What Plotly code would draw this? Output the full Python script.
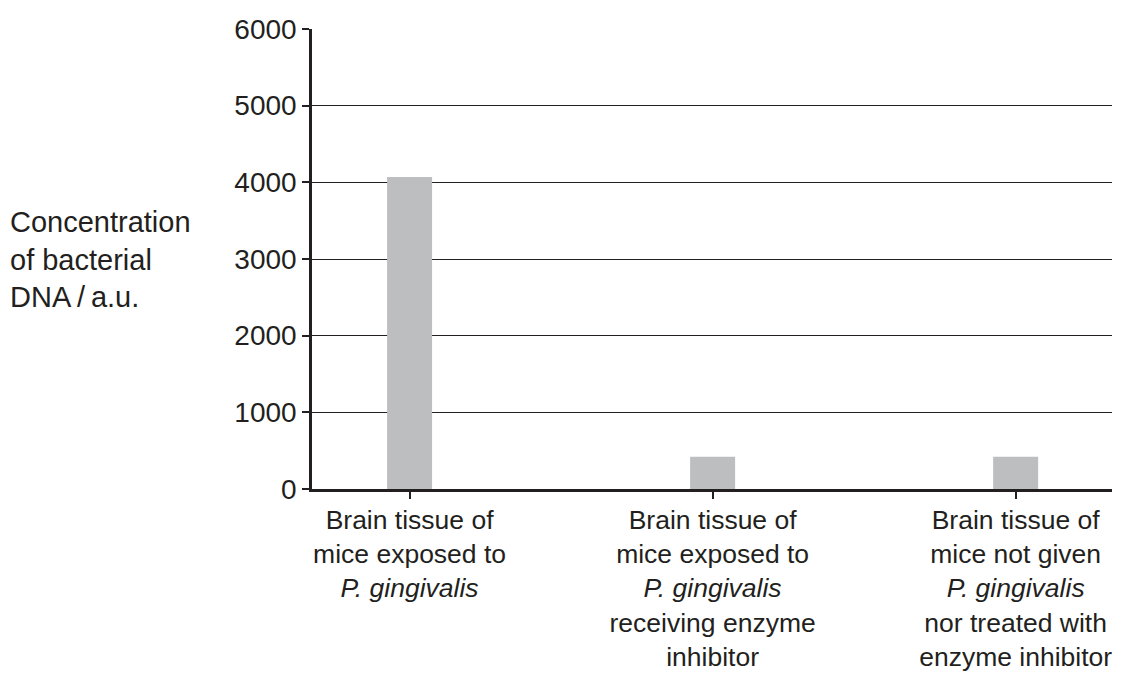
import plotly.graph_objects as go

categories = [
    "Brain tissue of<br>mice exposed to<br><i>P. gingivalis</i>",
    "Brain tissue of<br>mice exposed to<br><i>P. gingivalis</i><br>receiving enzyme<br>inhibitor",
    "Brain tissue of<br>mice not given<br><i>P. gingivalis</i><br>nor treated with<br>enzyme inhibitor",
]
values = [4070, 420, 420]
y_ticks = [0, 1000, 2000, 3000, 4000, 5000, 6000]

ink = "#231f20"
font = "Liberation Sans, Arial, sans-serif"

fig = go.Figure()
fig.add_trace(go.Bar(
    x=list(range(len(categories))),
    y=values,
    width=0.1485,
    marker=dict(color="#bcbec0", line=dict(width=0)),
))

fig.update_layout(
    width=1126, height=673,
    margin=dict(l=312, r=14, t=29, b=184, autoexpand=False),
    paper_bgcolor="white", plot_bgcolor="white",
    showlegend=False,
    font=dict(family=font, size=28, color=ink),
    xaxis=dict(
        range=[-0.322, 2.318],
        tickmode="array",
        tickvals=list(range(len(categories))),
        ticktext=categories,
        ticks="outside", ticklen=7, tickwidth=2, tickcolor=ink,
        showline=True, linecolor=ink, linewidth=2.5,
        showgrid=False, zeroline=False, automargin=False,
        ticklabelstandoff=-2,
        tickfont=dict(family=font, size=26.5, color=ink),
    ),
    yaxis=dict(
        range=[0, 6000],
        tickmode="array",
        tickvals=y_ticks,
        ticktext=[str(v) for v in y_ticks],
        ticks="outside", ticklen=7, tickwidth=2, tickcolor=ink,
        showline=True, linecolor=ink, linewidth=2.5,
        showgrid=True, gridcolor=ink, gridwidth=1,
        zeroline=False, automargin=False,
        tickfont=dict(family=font, size=28, color=ink),
    ),
    annotations=[dict(
        text="Concentration<br>of bacterial<br>DNA\u2009/\u2009a.u.",
        xref="paper", yref="paper",
        x=-0.38, y=0.498,
        xanchor="left", yanchor="middle",
        align="left", showarrow=False,
        font=dict(family=font, size=29, color=ink),
    )],
)

fig.write_html(
    "out.html",
    config={"displayModeBar": False},
    post_script="document.body.style.margin='0';document.body.style.overflow='hidden';",
)
